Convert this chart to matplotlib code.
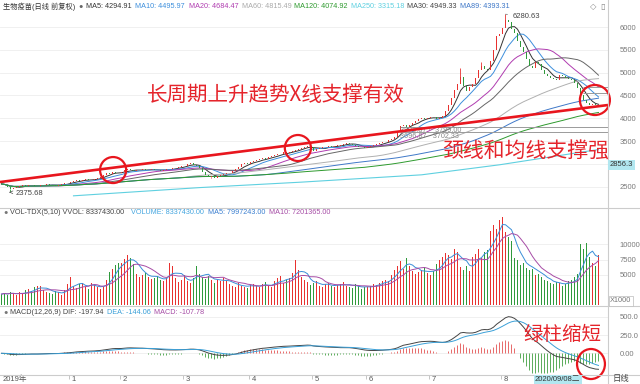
import numpy as np
import pandas as pd
import matplotlib
matplotlib.use("Agg")
from matplotlib import pyplot as plt
from matplotlib.patches import Ellipse
from matplotlib.lines import Line2D

plt.rcParams['font.family'] = ['Liberation Sans', 'Noto Sans CJK SC', 'DejaVu Sans']

W, H = 640, 384

# daily closes (about 3 px per bar)
closes = [
    2560, 2540, 2500, 2450, 2480, 2500, 2510, 2530, 2520, 2540,
    2530, 2510, 2520, 2530, 2540, 2550, 2540, 2530, 2520, 2540,
    2560, 2570, 2580, 2600, 2620, 2640, 2630, 2650, 2660, 2640,
    2650, 2670, 2690, 2720, 2760, 2800, 2780, 2830, 2810, 2790,
    2820, 2860, 2880, 2870, 2850, 2860, 2870, 2880, 2860, 2870,
    2880, 2870, 2860, 2850, 2870, 2880, 2890, 2900, 2910, 2930,
    2950, 2960, 2990, 3010, 2980, 2950, 2900, 2820, 2760, 2720,
    2740, 2700, 2730, 2750, 2770, 2790, 2810, 2850, 2880, 2940,
    2990, 3020, 3000, 3040, 3060, 3080, 3100, 3120, 3110, 3150,
    3170, 3190, 3210, 3220, 3250, 3240, 3270, 3290, 3310, 3330,
    3350, 3380, 3400, 3370, 3280, 3330, 3350, 3360, 3370, 3380,
    3370, 3390, 3400, 3420, 3440, 3460, 3440, 3420, 3400, 3380,
    3360, 3350, 3370, 3390, 3410, 3430, 3450, 3470, 3490, 3520,
    3550, 3600, 3700, 3820, 3850, 3800, 3850, 3900, 3950, 3980,
    4000, 3990, 4010, 4030, 4020, 3990, 4000, 4040, 4150, 4300,
    4450, 4620, 4750, 4900, 4700, 4600, 4680, 4750, 4880, 5050,
    5150, 5080, 5050, 5250, 5500, 5800, 5850, 5980, 6150, 6100,
    5950, 5860, 5700, 5560, 5450, 5300, 5150, 5100, 5230, 5200,
    5060, 4980, 4920, 4880, 4850, 4830, 4950, 4920, 4880, 4860,
    4830, 4770, 4660, 4500, 4400, 4330, 4300, 4320, 4280, 4300,
]
first_open = 2580

# volume in units of 1000
volumes = [
    1800, 2000, 1700, 2200, 1900, 1600, 2100, 1800, 2400, 2600,
    2300, 2900, 3200, 3100, 2500, 2200, 2000, 1900, 2300, 2100,
    1700, 2400, 3500, 4600, 3200, 2800, 3500, 3700, 3000, 2700,
    3600, 3300, 2900, 2600, 3000, 4200, 5500, 6000, 6600, 7000,
    6900, 7600, 8200, 7700, 6800, 5200, 4600, 4900, 5300, 4700,
    4300, 4500, 4800, 4100, 3900, 4400, 7000, 6500, 4500, 3800,
    4200, 4900, 3900, 3600, 4400, 6500, 5200, 4600, 4300, 4800,
    4100, 3700, 4200, 3900, 4500, 4000, 3400, 3100, 2900, 3600,
    3200, 3000, 2800, 3300, 3500, 3100, 2900, 3400, 3800, 3200,
    3000, 4000, 4400, 4800, 3600, 4200, 4500, 5300, 7500, 5800,
    4600, 4100, 3800, 3300, 3600, 3900, 3200, 3000, 3400, 3700,
    3100, 2900, 3300, 3500, 3800, 3200, 3000, 2800, 3400, 3100,
    2700, 2900, 3000, 3200, 3500, 3300, 3700, 3900, 4200, 4000,
    5000, 5800, 6500, 7200, 6000, 7800, 6400, 5600, 5100, 5400,
    5800, 6200, 5300, 5000, 5600, 6800, 7400, 7900, 8600, 8200,
    7600, 9300, 8800, 6200, 5800, 6500, 5600, 7900, 8500, 9300,
    7800, 8700, 9100, 12200, 13200, 12600, 14000, 14500, 12000, 11200,
    10500, 7800, 7400, 6600, 6900, 6100, 5800, 6000, 5000, 5200,
    4600, 4100, 3900, 3700, 3400, 3800, 3600, 3200, 3500, 3900,
    4200, 4600, 5100, 10100, 9300, 10300, 7900, 6900, 6500, 8337,
]

# wicks that stand out
wick_highs = {153: 5100, 160: 5230, 168: 6280.63}
wick_lows = {3: 2375.68, 70: 2680}

# MA250 needs a year of history, so read it off the cyan line
ma250_idx = [24, 66, 100, 140, 166, 199]
ma250_val = [2300, 2480, 2600, 2760, 2980, 3315]

month_idx = [0, 23, 40, 61, 83, 104, 122, 143, 167]
month_labels = ["2019年", "1", "2", "3", "4", "5", "6", "7", "8"]

price_ticks = [2500, 3000, 3500, 4000, 4500, 5000, 5500, 6000]
vol_ticks = [5000, 7500, 10000]
macd_ticks = [0, 250, 500]

RED = "#e8312f"
GREEN = "#2f9a3c"
ANNO = "#e5242b"

XMIN, XMAX = -0.5, 202.17


def fx(px):
    return px / W


def fy(py):
    return 1 - py / H


def style_axes(ax, ticks, labels, ylim):
    ax.set_xlim(XMIN, XMAX)
    ax.set_ylim(*ylim)
    for s in ax.spines.values():
        s.set_visible(False)
    ax.set_xticks([])
    ax.yaxis.tick_right()
    ax.set_yticks(ticks)
    ax.set_yticklabels(labels)
    ax.tick_params(axis='y', length=0, pad=8.5, labelsize=5.5, labelcolor='#7a7a7a')
    ax.grid(axis='y', color='#eeeeee', lw=0.6)
    ax.set_axisbelow(True)


c = pd.Series(closes, dtype=float)
o = c.shift(1).fillna(first_open)
idx = np.arange(len(c))
up = (c >= o).values
colors = np.where(up, RED, GREEN)

fig = plt.figure(figsize=(6.4, 3.84), dpi=100)
ax_p = fig.add_axes([0, fy(208), fx(608), 208 / H])
ax_v = fig.add_axes([0, fy(305), fx(608), (305 - 208) / H])
ax_m = fig.add_axes([0, fy(375), fx(608), (375 - 306) / H])

# ---- price panel (3000 label sits under the cursor price box)
style_axes(ax_p, price_ticks, [str(t) if t != 3000 else "" for t in price_ticks], (2033, 6592))

ma_cfg = [(5, "#333333"), (10, "#3d8fdc"), (20, "#b03cb0"), (30, "#666666"),
          (60, "#b0b0b0"), (89, "#3f78c8"), (120, "#2e9a2e")]
for n, col in ma_cfg:
    ax_p.plot(idx, c.rolling(n, min_periods=1).mean(), color=col, lw=0.7, zorder=2)
ax_p.plot(ma250_idx, ma250_val, color="#5fd0e0", lw=0.8, zorder=2)

body_h = np.maximum(np.abs(c - o).values, 14)
body_b = np.minimum(c, o).values
ax_p.bar(idx, body_h, bottom=body_b, width=0.65, color=colors, zorder=3)
for i, hi in wick_highs.items():
    ax_p.vlines(i, max(c[i], o[i]), hi, color=colors[i], lw=0.6, zorder=3)
for i, lo in wick_lows.items():
    ax_p.vlines(i, lo, min(c[i], o[i]), color=colors[i], lw=0.6, zorder=3)

# gray support lines
for lvl in (3799.00, 3702.33):
    ax_p.hlines(lvl, 133, XMAX, color="#9a9a9a", lw=0.7, zorder=2)
for lvl in (4690, 4560):
    ax_p.hlines(lvl, 194, XMAX, color="#9a9a9a", lw=0.7, zorder=2)
ax_p.text(133, 3725, "3826.87 ·· 3799.00", fontsize=5.2, color="#888888", va="center", zorder=4)
ax_p.text(133, 3605, "3696.87 · 3702.33", fontsize=5.2, color="#888888", va="center", zorder=4)

ax_p.annotate("6280.63", xy=(168, 6280.63), xytext=(170.5, 6240), fontsize=5.5,
              color="#444444", va="center",
              arrowprops=dict(arrowstyle="-", color="#666666", lw=0.5))
ax_p.annotate("2375.68", xy=(2.6, 2380), xytext=(4.6, 2360), fontsize=5.5,
              color="#444444", va="center",
              arrowprops=dict(arrowstyle="->", color="#555555", lw=0.5, mutation_scale=5))

# trend line and circles
ax_p.plot([XMIN, XMAX], [2602, 4290], color="#e8161e", lw=1.9, zorder=5, solid_capstyle="butt")
for cx, cy, w, h in [(37.2, 2865, 8.7, 570), (98.8, 3348, 8.7, 570), (197.8, 4400, 10, 658)]:
    ax_p.add_patch(Ellipse((cx, cy), w, h, fill=False, ec="#e8161e", lw=1.6, zorder=6, clip_on=False))

ax_p.text(fx(147), fy(95), "长周期上升趋势X线支撑有效", transform=fig.transFigure,
          fontsize=14.8, color=ANNO, family=["Noto Sans CJK SC"], va="center", zorder=7)
ax_p.text(fx(442), fy(152), "颈线和均线支撑强", transform=fig.transFigure,
          fontsize=15, color=ANNO, family=["Noto Sans CJK SC"], va="center", zorder=7)

# ---- volume panel
style_axes(ax_v, vol_ticks, [str(t) for t in vol_ticks], (0, 16030))
v = pd.Series(volumes, dtype=float)
ax_v.bar(idx, v, width=0.65, color=colors, zorder=2)
ax_v.plot(idx, v.rolling(5, min_periods=1).mean(), color="#3a8fd8", lw=0.7, zorder=3)
ax_v.plot(idx, v.rolling(10, min_periods=1).mean(), color="#a64ca6", lw=0.7, zorder=3)

# ---- MACD panel
style_axes(ax_m, macd_ticks, ["0.00", "250.0", "500.0"], (-296, 646))
ema12 = c.ewm(span=12, adjust=False).mean()
ema26 = c.ewm(span=26, adjust=False).mean()
dif = ema12 - ema26
dea = dif.ewm(span=9, adjust=False).mean()
hist = 2 * (dif - dea)
ax_m.vlines(idx, 0, hist, colors=np.where(hist >= 0, "#e86a6a", "#5aac5a"), lw=0.7, zorder=2)
ax_m.plot(idx, dif, color="#444444", lw=0.7, zorder=3)
ax_m.plot(idx, dea, color="#3aa0d8", lw=0.7, zorder=3)
ax_m.add_patch(Ellipse((196.5, -146), 9.3, 410, fill=False, ec="#e8161e", lw=1.6, zorder=6, clip_on=False))
ax_m.text(fx(523), fy(334), "绿柱缩短", transform=fig.transFigure,
          fontsize=14, color=ANNO, family=["Noto Sans CJK SC"], va="center", zorder=7)

# ---- headers, laid out left to right so they never collide
renderer = fig.canvas.get_renderer()


def header(items, py, size=5.2):
    end = 0
    for px, s, col in items:
        x0 = max(px, end + 3)
        t = fig.text(fx(x0), fy(py), s, fontsize=size, color=col, va="center", ha="left")
        end = t.get_window_extent(renderer).x1


header([(2, "生物疫苗(日线 前复权)", "#333333"), (76, "●", "#666666"),
        (82, "MA5: 4294.91", "#333333"), (135, "MA10: 4495.97", "#3d8fdc"),
        (189, "MA20: 4684.47", "#b03cb0"), (241, "MA60: 4815.49", "#aaaaaa"),
        (292, "MA120: 4074.92", "#2e9a2e"), (349, "MA250: 3315.18", "#5fd0e0"),
        (406, "MA30: 4949.33", "#444444"), (457, "MA89: 4393.31", "#3f78c8")], 7)
header([(2, "●", "#777777"), (10, "VOL-TDX(5,10) VVOL: 8337430.00", "#444444"),
        (131, "VOLUME: 8337430.00", "#45a6e0"), (208, "MA5: 7997243.00", "#3a7fd0"),
        (269, "MA10: 7201365.00", "#a64ca6")], 212)
header([(2, "●", "#777777"), (10, "MACD(12,26,9) DIF: -197.94", "#444444"),
        (101, "DEA: -144.06", "#3aa0d8"), (141, "MACD: -107.78", "#a64ca6")], 312)
fig.text(fx(590), fy(7), "◇", fontsize=6, color="#888888", va="center", family=["DejaVu Sans"])
fig.text(fx(600), fy(7), "▯", fontsize=6, color="#888888", va="center", family=["DejaVu Sans"])

# ---- frame lines
for py in (208, 305.5, 375):
    fig.add_artist(Line2D([0, 1], [fy(py)] * 2, transform=fig.transFigure, color="#cccccc", lw=0.8))
fig.add_artist(Line2D([fx(608)] * 2, [0, 1], transform=fig.transFigure, color="#cccccc", lw=0.8))

# ---- time axis
for i, lab in zip(month_idx, month_labels):
    ax_m.text(i + 0.3, -0.065, lab, transform=ax_m.get_xaxis_transform(), fontsize=5.5,
              color="#555555", ha="left", va="center", clip_on=False)
    if i > 0:
        ax_m.vlines(i - 0.5, -0.06, 0, transform=ax_m.get_xaxis_transform(), color="#bbbbbb",
                    lw=0.6, clip_on=False)
fig.text(fx(535), fy(379.5), "2020/09/08二", fontsize=5.5, color="#333333", va="center",
         bbox=dict(boxstyle="square,pad=0.15", fc="#b2e7f0", ec="none"))
fig.text(fx(613), fy(379.5), "日线", fontsize=6, color="#444444", va="center")

# right axis boxes
fig.text(fx(610), fy(165), "2856.3", fontsize=5.5, color="#333333", va="center",
         bbox=dict(boxstyle="square,pad=0.25", fc="#b2e7f0", ec="none"))
fig.text(fx(610), fy(301), "X1000", fontsize=5.3, color="#777777", va="center",
         bbox=dict(boxstyle="square,pad=0.2", fc="white", ec="#bbbbbb", lw=0.5))

fig.savefig("out.png", dpi=100)
